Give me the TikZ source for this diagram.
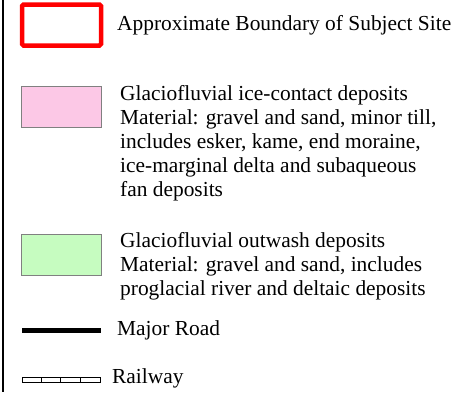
\documentclass[tikz,border=0pt]{standalone}
\usepackage{fontspec}
\setmainfont{Liberation Serif}
\definecolor{sitered}{HTML}{FF0000}
\definecolor{icepink}{HTML}{FCC8E6}
\definecolor{outwashgreen}{HTML}{C6FCC0}
\definecolor{swatchgray}{HTML}{808080}
\tikzset{
  swatch/.style={draw=swatchgray, line width=0.8pt, outer sep=0pt, inner sep=0pt,
    minimum width=80pt, minimum height=41pt},
  legendtext/.style={align=left, inner sep=0pt, font=\fontsize{21.4}{23.9}\selectfont},
}

\begin{document}
\begin{tikzpicture}[x=1pt,y=-1pt]
  \useasboundingbox (0,0) rectangle (472,392);
  % frame edge on the left
  \draw[line width=2.2pt] (3,0) -- (3,392);
  % swatches
  \node[draw=sitered, line width=4.5pt, rounded corners=1.5pt, outer sep=0pt,
        minimum width=79pt, minimum height=41pt] (site) at (61.5,25) {};
  \node[swatch, fill=icepink]      (icecontact) at (61,106.5) {};
  \node[swatch, fill=outwashgreen] (outwash)    at (61,255) {};
  \coordinate (roadW) at (22,330);
  \coordinate (roadE) at (101,330);
  \draw[line width=5pt] (roadW) -- (roadE);
  \coordinate (railW) at (22,377);
  \coordinate (railE) at (100,382);
  \draw[line width=0.9pt] (railW) rectangle (railE);
  \foreach \x in {41,60,80}
    \draw[line width=0.9pt] (\x,377) -- (\x,382);
  % labels
  \node[legendtext, anchor=west] (siteText) at (117,25) {Approximate Boundary of Subject Site};
  \node[legendtext, anchor=north west] (iceText) at (120,85.5)
    {Glaciofluvial ice-contact deposits\\
     Material: gravel and sand, minor till,\\
     includes esker, kame, end moraine,\\
     ice-marginal delta and subaqueous\\
     fan deposits};
  \node[legendtext, anchor=north west] (outwashText) at (120,232)
    {Glaciofluvial outwash deposits\\
     Material: gravel and sand, includes\\
     proglacial river and deltaic deposits};
  \node[legendtext, anchor=west] (roadText) at (117,330) {Major Road};
  \node[legendtext, anchor=west] (railText) at (112,378) {Railway};
\end{tikzpicture}
\end{document}
